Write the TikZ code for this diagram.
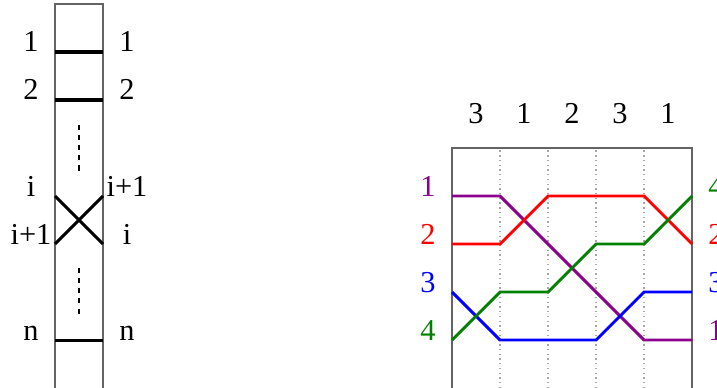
\documentclass[tikz,border=0pt]{standalone}
\usepackage{fontspec}
\setmainfont{Liberation Serif}
\definecolor{strandviolet}{RGB}{140, 0, 140}
\definecolor{strandgreen}{RGB}{0, 128, 0}
\definecolor{framegray}{RGB}{100, 100, 100}

\begin{document}
\begin{tikzpicture}[
    frame/.style={draw=framegray, line width=0.8pt},
    rung/.style={line width=1.8pt, black},
    gap/.style={dashed, line width=1.6pt},
    column/.style={dotted, gray!70, line width=0.8pt},
    strand/.style={line width=1.7pt, line join=miter},
    lbl/.style={anchor=base, inner sep=0pt, font=\fontsize{18}{21}\selectfont}
]
    \useasboundingbox (-1.146, -0.979) rectangle (13.79, 7.083);

    % single braid generator on n strands
    \draw[frame] (0, -1) -- (0, 7) -- (1, 7) -- (1, -1);
    \draw[rung] (0, 6) -- (1, 6);
    \draw[rung] (0, 5) -- (1, 5);
    \draw[rung] (0, 3) -- (1, 2);
    \draw[rung] (0, 2) -- (1, 3);
    \draw[rung] (0, 0) -- (1, 0);
    \draw[gap] (0.5, 4.48) -- (0.5, 3.5);
    \draw[gap] (0.5, 1.5) -- (0.5, 0.52);

    \node[lbl] (l1) at (-0.5, 6) {1};
    \node[lbl] (l2) at (-0.5, 5) {2};
    \node[lbl] (li) at (-0.5, 3) {i};
    \node[lbl] (lj) at (-0.5, 2) {i+1};
    \node[lbl] (ln) at (-0.5, 0) {n};
    \node[lbl] (r1) at (1.5, 6) {1};
    \node[lbl] (r2) at (1.5, 5) {2};
    \node[lbl] (ri) at (1.5, 3) {i+1};
    \node[lbl] (rj) at (1.5, 2) {i};
    \node[lbl] (rn) at (1.5, 0) {n};

    % braid word 3 1 2 3 1 on 4 strands
    \begin{scope}[xshift=8.27cm]
        \draw[frame] (0, -1) -- (0, 4) -- (5, 4) -- (5, -1);
        \foreach \x in {1,...,4}
            \draw[column] (\x, -1) -- (\x, 4);
        \foreach \g [count=\k] in {3,1,2,3,1}
            \node[lbl] (g\k) at (\k-0.5, 4.52) {\g};

        \draw[strand, strandviolet] (0, 3) -- (1, 3) -- (2, 2) -- (3, 1) -- (4, 0) -- (5, 0);
        \draw[strand, red] (0, 2) -- (1, 2) -- (2, 3) -- (3, 3) -- (4, 3) -- (5, 2);
        \draw[strand, blue] (0, 1) -- (1, 0) -- (2, 0) -- (3, 0) -- (4, 1) -- (5, 1);
        \draw[strand, strandgreen] (0, 0) -- (1, 1) -- (2, 1) -- (3, 2) -- (4, 2) -- (5, 3);

        \node[lbl, strandviolet] (in1) at (-0.5, 3) {1};
        \node[lbl, red] (in2) at (-0.5, 2) {2};
        \node[lbl, blue] (in3) at (-0.5, 1) {3};
        \node[lbl, strandgreen] (in4) at (-0.5, 0) {4};
        \node[lbl, strandgreen] (out4) at (5.5, 3) {4};
        \node[lbl, red] (out2) at (5.5, 2) {2};
        \node[lbl, blue] (out3) at (5.5, 1) {3};
        \node[lbl, strandviolet] (out1) at (5.5, 0) {1};
    \end{scope}
\end{tikzpicture}
\end{document}
